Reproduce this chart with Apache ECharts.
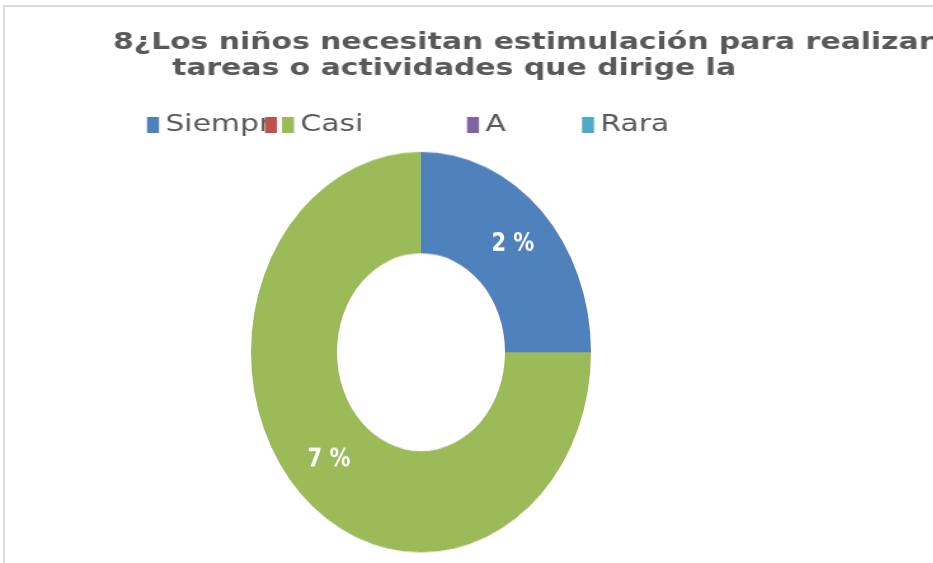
<!DOCTYPE html>
<html>
<head>
<meta charset="utf-8">
<script src="https://cdn.jsdelivr.net/npm/echarts@6/dist/echarts.min.js"></script>
<style>
  html, body { margin: 0; padding: 0; width: 933px; height: 563px; overflow: hidden; background: #fff; }
  #frame { position: absolute; left: 3px; top: 5px; width: 1200px; height: 900px; border: 2px solid #dcdcdc; box-sizing: border-box; }
  /* the picture is distorted: the donut is stretched vertically, the text horizontally */
  #pie { position: absolute; left: 0; top: 0; width: 933px; height: 478px; transform: scaleY(1.1778); transform-origin: 0 0; }
  #chart { position: absolute; left: 0; top: 0; width: 735px; height: 563px; transform: scaleX(1.27); transform-origin: 0 0; }
</style>
</head>
<body>
<div id="frame"></div>
<div id="pie"></div>
<div id="chart"></div>
<script>
// data
const titleLines = ['8¿Los niños necesitan estimulación para realizar', 'tareas o actividades que dirige la'];
const categories = ['Siempr', ' ', 'Casi', 'A', 'Rara'];
const values = [25, 0, 75, 0, 0];
const sliceLabels = ['2 %', '', '7 %', '', ''];
const colors = ['#4F81BD', '#C0504D', '#9BBB59', '#8064A2', '#4BACC6'];

// layout (picture pixels)
const sx = 1.27;
const legendLeft = [147, 265, 282, 467, 582];
const textColor = '#595959';

const pieData = categories.map((name, i) => ({
    name: name,
    value: values[i],
    itemStyle: { color: colors[i] }
}));

const pieChart = echarts.init(document.getElementById('pie'));
pieChart.setOption({
    animation: false,
    series: [{
        type: 'pie',
        center: [421, 299],
        radius: [84, 170],
        startAngle: 90,
        avoidLabelOverlap: false,
        itemStyle: { borderWidth: 0 },
        label: {
            show: true,
            position: 'inside',
            color: '#fff',
            fontFamily: 'DejaVu Sans',
            fontWeight: 'bold',
            fontSize: 21,
            formatter: p => sliceLabels[p.dataIndex]
        },
        labelLine: { show: false },
        data: pieData
    }]
});

const chart = echarts.init(document.getElementById('chart'));
const titleStyle = { fontFamily: 'DejaVu Sans', fontWeight: 'bold', fontSize: 23.5, color: textColor };

chart.setOption({
    animation: false,
    title: [
        { text: titleLines[0], left: 113 / sx, top: 31, padding: 0, textStyle: titleStyle },
        { text: titleLines[1], left: 172 / sx, top: 56.5, padding: 0, textStyle: titleStyle }
    ],
    legend: categories.map((name, i) => ({
        data: [name],
        left: legendLeft[i] / sx,
        top: 113,
        padding: 0,
        icon: 'rect',
        itemWidth: 12 / sx,
        itemHeight: 16,
        itemGap: 0,
        selectedMode: false,
        textStyle: { color: textColor, fontFamily: 'DejaVu Sans', fontSize: 23.5, lineHeight: 22 }
    })),
    // series only feeds the legend; the visible donut is drawn in the layer below
    series: [{
        type: 'pie',
        radius: [0, 0],
        silent: true,
        label: { show: false },
        labelLine: { show: false },
        data: pieData
    }]
});
</script>
</body>
</html>
